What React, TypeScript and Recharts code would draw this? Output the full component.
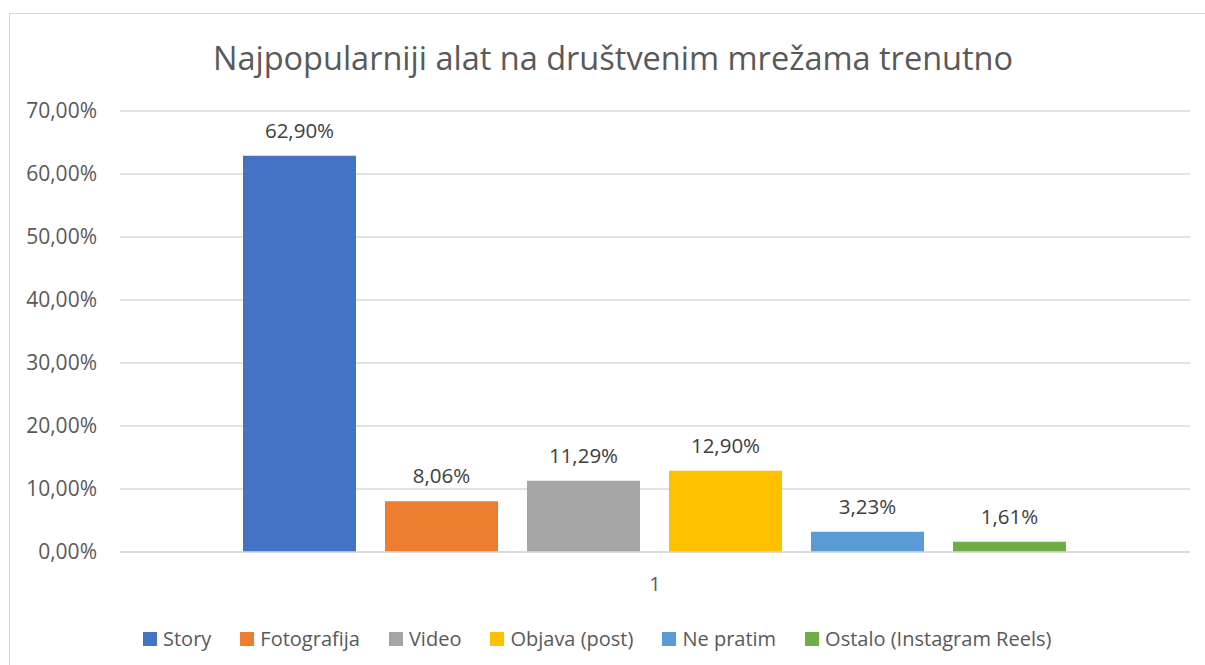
import React from 'react';
import { BarChart, Bar, XAxis, YAxis, CartesianGrid, Legend, LabelList } from 'recharts';

const categories = ['1'];
const seriesNames = ['Story', 'Fotografija', 'Video', 'Objava (post)', 'Ne pratim', 'Ostalo (Instagram Reels)'];
const seriesValues = [62.9, 8.06, 11.29, 12.9, 3.23, 1.61];
const seriesColors = ['#4472C4', '#ED7D31', '#A5A5A5', '#FFC000', '#5B9BD5', '#70AD47'];
const yTicks = [0, 10, 20, 30, 40, 50, 60, 70];

const FONT = '"Open Sans", "Noto Sans", sans-serif';

const data = categories.map((name) => {
  const row: Record<string, string | number> = { name };
  seriesNames.forEach((s, i) => {
    row[`s${i}`] = seriesValues[i];
  });
  return row;
});

function pct(v: number | string): string {
  return `${Number(v).toFixed(2).replace('.', ',')}%`;
}

function LegendContent() {
  return (
    <div style={{ display: 'flex', alignItems: 'center', fontFamily: FONT, fontSize: 20, color: '#595959', whiteSpace: 'nowrap' }}>
      {seriesNames.map((s, i) => (
        <div key={s} style={{ display: 'flex', alignItems: 'center', marginRight: 29 }}>
          <span style={{ display: 'inline-block', width: 14, height: 14, background: seriesColors[i], marginRight: 6 }} />
          <span>{s}</span>
        </div>
      ))}
    </div>
  );
}

export default function App() {
  return (
    <div style={{ position: 'absolute', left: 0, top: 0, width: 1205, height: 665, overflow: 'hidden', background: '#fff' }}>
      <div style={{ position: 'absolute', left: 9, top: 13, width: 1300, height: 800, border: '1.5px solid #d9d9d9' }} />
      <div
        style={{
          position: 'absolute',
          left: 0,
          top: 42,
          width: 1226,
          textAlign: 'center',
          fontFamily: FONT,
          fontSize: 32.5,
          lineHeight: 1,
          color: '#595959',
          whiteSpace: 'nowrap',
        }}
      >
        Najpopularniji alat na društvenim mrežama trenutno
      </div>
      <div style={{ position: 'absolute', left: 0, top: 0 }}>
        <BarChart
          width={1205}
          height={665}
          data={data}
          margin={{ top: 111, right: 15, left: 0, bottom: 73 }}
          barGap={29}
          barCategoryGap={123}
        >
          <CartesianGrid vertical={false} stroke="#d9d9d9" strokeWidth={1.5} />
          <XAxis
            dataKey="name"
            height={40}
            axisLine={{ stroke: '#d9d9d9', strokeWidth: 1.5 }}
            tickLine={false}
            tickSize={0}
            tickMargin={25}
            tick={{ fontSize: 20, fill: '#595959', fontFamily: FONT }}
          />
          <YAxis
            width={120}
            domain={[0, 70]}
            ticks={yTicks}
            interval={0}
            axisLine={false}
            tickLine={false}
            tickSize={0}
            tickMargin={23}
            tickFormatter={pct}
            tick={{ fontSize: 21, fill: '#595959', fontFamily: FONT }}
          />
          <Legend
            layout="horizontal"
            verticalAlign="middle"
            align="center"
            content={() => <LegendContent />}
            wrapperStyle={{ left: 143, top: 625, width: 'auto' }}
          />
          {seriesNames.map((s, i) => (
            <Bar key={s} dataKey={`s${i}`} name={s} fill={seriesColors[i]} isAnimationActive={false}>
              <LabelList
                dataKey={`s${i}`}
                position="top"
                offset={18}
                formatter={pct}
                style={{ fontSize: 20.5, fill: '#404040', fontFamily: FONT }}
              />
            </Bar>
          ))}
        </BarChart>
      </div>
    </div>
  );
}
